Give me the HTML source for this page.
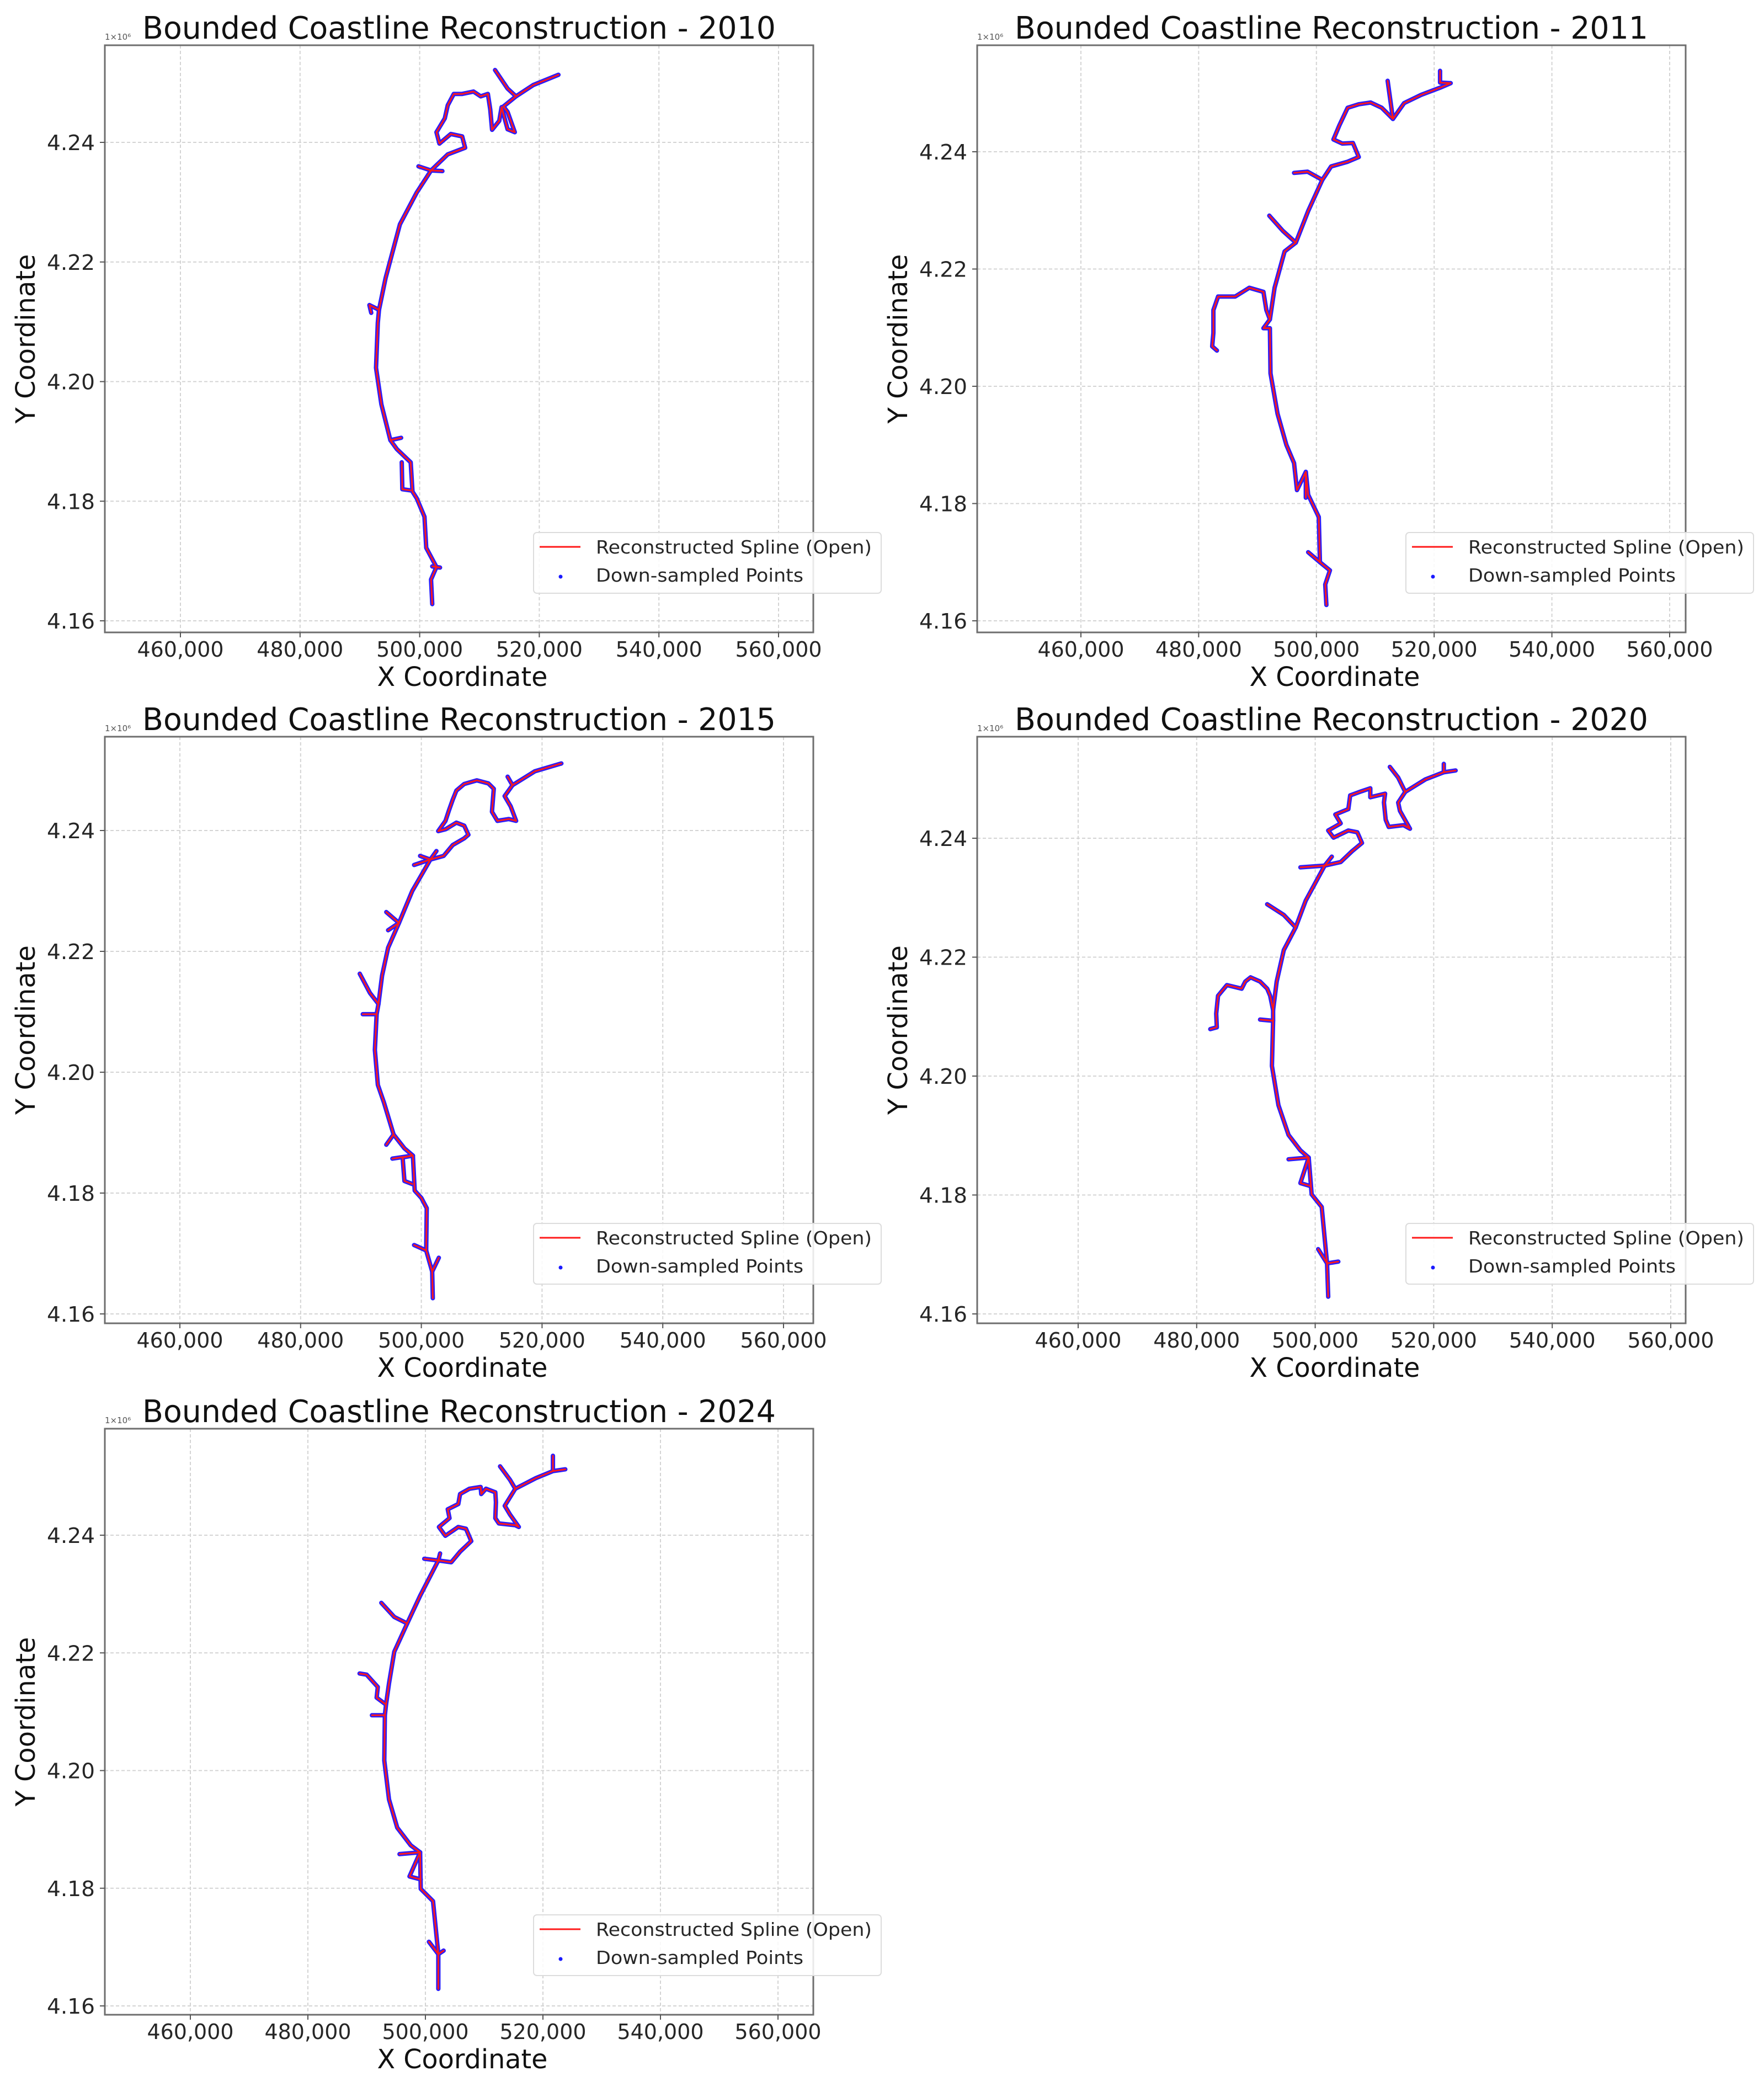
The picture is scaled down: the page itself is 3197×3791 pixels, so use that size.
<!DOCTYPE html>
<html><head><meta charset="utf-8"><style>
html,body{margin:0;padding:0;background:#fff;}
svg{display:block;font-family:"DejaVu Sans","Liberation Sans",sans-serif;}
</style></head><body>
<svg id="fig" width="3197" height="3791" viewBox="0 0 3197 3791" xmlns="http://www.w3.org/2000/svg">
<rect width="3197" height="3791" fill="#fff"/>
</svg>
<script>
// ---- data ----
const xTicks = [460, 480, 500, 520, 540, 560];          // thousands of metres
const xTickLabels = ["460,000","480,000","500,000","520,000","540,000","560,000"];
const yTicks = [4160, 4180, 4200, 4220, 4240];           // km
const yTickLabels = ["4.16","4.18","4.20","4.22","4.24"];
const years = ["2010","2011","2015","2020","2024"];

const coast2010 = [
 [[502.1,4162.8],[501.9,4166.9],[502.8,4169.0],[501.1,4172.2],[500.8,4177.4],[499.5,4180.5],[498.8,4181.6],[498.5,4186.5],[496.2,4188.7],[495.1,4190.2],[493.6,4196.2],[492.7,4202.3],[493.0,4209.8],[493.2,4212.0],[494.3,4217.3],[496.7,4226.3],[499.5,4231.6],[501.9,4235.3],[504.7,4238.0],[507.6,4239.1],[507.1,4241.0],[505.2,4241.4],[503.3,4239.8],[502.8,4241.7],[504.2,4244.0],[504.7,4246.2],[505.7,4248.1],[507.1,4248.1],[509.0,4248.5],[510.2,4247.7],[511.4,4248.1],[511.8,4245.5],[512.1,4242.1],[513.3,4243.6],[513.7,4245.9],[514.7,4242.2],[515.9,4241.7],[514.7,4245.1],[514.0,4246.0],[516.1,4247.7],[519.0,4249.6],[523.2,4251.3]],
 [[502.1,4169.1],[503.4,4168.9]],
 [[497.0,4186.5],[497.1,4182.0],[498.5,4181.8]],
 [[495.1,4190.2],[496.9,4190.6]],
 [[493.2,4212.0],[491.6,4212.8],[491.9,4211.5]],
 [[501.9,4235.3],[499.8,4236.0]],[[501.9,4235.3],[503.8,4235.2]],
 [[516.1,4247.7],[514.7,4249.0],[512.6,4252.1]]
];
const coast2011 = [
 [[501.7,4162.7],[501.5,4166.2],[502.3,4168.6],[500.6,4170.0],[500.4,4177.7],[498.6,4181.5],[498.2,4185.4],[496.7,4182.3],[496.2,4186.9],[494.9,4190.0],[493.4,4195.3],[492.2,4202.2],[492.1,4209.9],[491.0,4209.9],[492.1,4211.4],[492.9,4216.8],[494.6,4223.0],[496.5,4224.5],[498.6,4229.9],[501.0,4235.2],[502.5,4237.5],[505.3,4238.3],[507.2,4239.1],[506.2,4241.5],[504.4,4241.4],[502.9,4242.1],[503.9,4244.5],[505.3,4247.5],[507.2,4248.1],[509.2,4248.4],[511.1,4247.5],[513.0,4245.6],[514.9,4248.3],[517.8,4249.7],[521.2,4251.0],[522.8,4251.7]],
 [[500.6,4170.0],[498.6,4171.7]],
 [[498.2,4185.4],[498.2,4181.0]],
 [[492.1,4211.4],[491.5,4213.0],[491.0,4216.1],[488.6,4216.8],[486.2,4215.3],[483.3,4215.3],[482.5,4213.0],[482.5,4209.1],[482.3,4206.8],[483.1,4206.1]],
 [[496.5,4224.5],[494.3,4226.5],[492.0,4229.1]],
 [[501.0,4235.2],[498.5,4236.6],[496.2,4236.4]],
 [[513.0,4245.6],[512.1,4252.1]],
 [[522.8,4251.7],[521.0,4251.8],[521.0,4253.8]]
];
const coast2015 = [
 [[501.9,4162.6],[501.8,4167.0],[500.8,4170.5],[500.9,4177.5],[500.0,4179.2],[498.9,4180.4],[498.6,4186.2],[497.2,4187.4],[495.4,4189.7],[493.8,4195.0],[492.8,4197.9],[492.3,4203.7],[492.6,4209.6],[492.9,4211.3],[493.5,4216.0],[494.5,4220.6],[496.3,4224.7],[498.5,4230.0],[501.5,4235.2],[503.7,4235.8],[505.2,4237.6],[507.1,4238.7],[507.8,4239.3],[507.1,4240.8],[505.8,4241.3],[504.0,4240.2],[502.8,4239.9],[504.0,4241.6],[504.6,4243.4],[505.2,4245.1],[505.8,4246.6],[507.1,4247.7],[509.2,4248.3],[511.1,4247.8],[512.0,4246.9],[511.7,4243.1],[512.6,4241.6],[514.5,4241.9],[515.7,4241.6],[514.8,4244.0],[513.8,4245.7],[515.1,4247.5],[518.8,4249.8],[523.2,4251.1]],
 [[501.8,4167.0],[502.9,4169.3]],
 [[500.8,4170.5],[498.8,4171.4]],
 [[498.6,4186.2],[496.9,4185.9],[497.2,4182.0],[498.5,4181.5]],
 [[498.6,4186.2],[495.2,4185.7]],
 [[495.4,4189.7],[494.2,4188.0]],
 [[492.6,4209.6],[490.3,4209.6]],
 [[492.9,4211.3],[491.5,4213.1],[489.8,4216.3]],
 [[496.3,4224.7],[494.2,4226.5]],[[496.3,4224.7],[494.5,4223.5]],
 [[501.5,4235.2],[498.8,4234.3]],[[501.5,4235.2],[499.8,4235.8]],[[501.5,4235.2],[502.5,4236.6]],
 [[515.1,4247.5],[514.3,4248.9]]
];
const coast2020 = [
 [[502.2,4162.9],[502.0,4168.5],[501.1,4178.0],[499.4,4180.1],[498.9,4186.3],[497.5,4187.5],[495.5,4190.1],[493.8,4195.1],[492.7,4201.7],[492.9,4209.3],[492.9,4211.1],[493.5,4215.9],[494.7,4221.2],[496.7,4225.0],[498.4,4229.5],[501.6,4235.4],[504.3,4236.0],[506.2,4237.8],[507.9,4239.2],[507.1,4241.0],[505.6,4241.3],[503.1,4240.1],[502.2,4241.3],[504.3,4242.5],[503.4,4244.0],[505.6,4244.9],[505.9,4247.2],[507.8,4247.9],[509.3,4248.4],[509.3,4246.9],[511.8,4247.5],[511.6,4246.0],[511.9,4243.1],[512.4,4241.9],[514.9,4242.2],[516.0,4241.6],[514.3,4244.6],[514.0,4246.0],[515.2,4247.8],[518.6,4249.9],[521.7,4251.1],[523.7,4251.4]],
 [[502.0,4168.5],[503.9,4168.8]],
 [[502.0,4168.5],[500.5,4170.9]],
 [[498.9,4186.3],[495.5,4186.0]],
 [[498.9,4186.3],[497.5,4182.0],[499.2,4181.5]],
 [[492.9,4209.3],[490.7,4209.5]],
 [[492.9,4211.1],[492.4,4213.5],[491.9,4214.7],[490.7,4215.9],[489.1,4216.6],[488.2,4215.9],[487.6,4214.7],[485.1,4215.3],[483.6,4213.5],[483.3,4210.5],[483.4,4208.2],[482.3,4207.9]],
 [[496.7,4225.0],[494.7,4227.1],[491.9,4228.9]],
 [[501.6,4235.4],[497.5,4235.1]],[[501.6,4235.4],[502.8,4236.9]],
 [[515.2,4247.8],[514.0,4250.2],[512.6,4252.0]],
 [[521.7,4251.1],[521.7,4252.5]]
];
const coast2024 = [
 [[502.2,4162.9],[502.2,4168.8],[501.3,4177.8],[499.2,4179.9],[499.1,4186.1],[497.5,4187.3],[495.2,4190.3],[493.8,4195.1],[493.0,4201.7],[493.1,4209.4],[493.3,4211.2],[493.8,4214.8],[494.7,4220.2],[496.9,4225.0],[499.1,4229.7],[502.2,4235.7],[504.4,4235.4],[505.9,4237.2],[507.8,4239.0],[506.9,4241.1],[505.6,4241.4],[503.4,4239.9],[502.3,4241.4],[504.1,4242.9],[503.8,4244.4],[505.6,4245.3],[505.9,4247.0],[507.5,4247.9],[509.4,4248.2],[509.5,4247.0],[510.3,4247.9],[511.9,4247.3],[512.0,4245.6],[511.9,4242.9],[512.5,4242.0],[515.3,4241.7],[515.9,4241.4],[514.4,4243.5],[513.5,4245.0],[515.3,4247.9],[518.8,4249.7],[521.7,4250.9],[523.8,4251.2]],
 [[502.2,4168.8],[503.1,4169.4]],
 [[502.2,4168.8],[500.6,4170.9]],
 [[499.1,4186.1],[495.6,4185.8]],
 [[499.1,4186.1],[497.3,4182.0],[499.2,4181.5]],
 [[493.1,4209.4],[490.9,4209.4]],
 [[493.3,4211.2],[491.7,4212.4],[491.9,4214.2],[490.0,4216.3],[488.8,4216.5]],
 [[496.9,4225.0],[494.7,4226.1],[492.5,4228.5]],
 [[502.2,4235.7],[499.8,4236.0]],[[502.2,4235.7],[502.5,4236.9]],
 [[515.3,4247.9],[514.4,4249.4],[512.7,4251.7]],
 [[521.7,4250.9],[521.7,4253.5]]
];
const coastByYear = [coast2010, coast2011, coast2015, coast2020, coast2024];

// ---- layout (axis calibration) ----
const panels = [
 {box:[190,82,1474,1146], xpx:[327,1411], ypx:[1125,258]},
 {box:[1771,82,3055,1146], xpx:[1959,3026], ypx:[1125,275]},
 {box:[190,1335,1474,2398], xpx:[326,1420], ypx:[2381,1505]},
 {box:[1771,1335,3055,2398], xpx:[1954,3028], ypx:[2381,1519]},
 {box:[190,2589,1474,3651], xpx:[345,1410], ypx:[3635,2782]}
];

const NS = "http://www.w3.org/2000/svg";
const svg = document.getElementById("fig");
function mk(tag, attrs, parent){
  const e = document.createElementNS(NS, tag);
  for (const k in attrs) e.setAttribute(k, attrs[k]);
  (parent||svg).appendChild(e);
  return e;
}

panels.forEach((p, i) => {
  const [L,T,R,B] = p.box;
  const sx = v => p.xpx[0] + (v - 460) / 100 * (p.xpx[1] - p.xpx[0]);
  const sy = v => p.ypx[0] + (v - 4160) / 80 * (p.ypx[1] - p.ypx[0]);
  const g = mk("g", {});
  
  

  mk("rect", {x:L, y:T, width:R-L, height:B-T, fill:"#fff"}, g);
  xTicks.forEach(t => {
    const x = sx(t);
    const gl = mk("line", {x1:x, x2:x, y1:T, y2:B, stroke:"#d4d4d4", "stroke-width":2, "stroke-dasharray":"6,4"}, g);
    
    
  });
  yTicks.forEach(t => {
    const y = sy(t);
    const gl = mk("line", {x1:L, x2:R, y1:y, y2:y, stroke:"#d4d4d4", "stroke-width":2, "stroke-dasharray":"6,4"}, g);
    
    
  });

  const cg = mk("g", {}, g);
  
  
  coastByYear[i].forEach(seg => {
    const pts = seg.map(q => sx(q[0]).toFixed(1) + "," + sy(q[1]).toFixed(1)).join(" ");
    const pb = mk("polyline", {points:pts, fill:"none", stroke:"#2a1cff", "stroke-width":8, "stroke-linejoin":"round", "stroke-linecap":"round"}, cg);
    
    
  });
  coastByYear[i].forEach(seg => {
    const pts = seg.map(q => sx(q[0]).toFixed(1) + "," + sy(q[1]).toFixed(1)).join(" ");
    const pr = mk("polyline", {points:pts, fill:"none", stroke:"#ff1a1a", "stroke-width":3, "stroke-linejoin":"round", "stroke-linecap":"round"}, cg);
    
    
  });

  const sp = mk("rect", {x:L, y:T, width:R-L, height:B-T, fill:"none", stroke:"#6e6e6e", "stroke-width":3}, g);
  
  

  xTicks.forEach((t, k) => {
    const x = sx(t);
    mk("line", {x1:x, x2:x, y1:B, y2:B+9, stroke:"#555", "stroke-width":2}, g);
    const tl = mk("text", {x:x, y:B+44, "font-size":38, fill:"#262626", "text-anchor":"middle", textLength:157, lengthAdjust:"spacingAndGlyphs"}, g);
    tl.textContent = xTickLabels[k];
    
    
  });
  yTicks.forEach((t, k) => {
    const y = sy(t);
    mk("line", {x1:L-9, x2:L, y1:y, y2:y, stroke:"#555", "stroke-width":2}, g);
    const tl = mk("text", {x:L-18, y:y+14, "font-size":38, fill:"#262626", "text-anchor":"end", textLength:87, lengthAdjust:"spacingAndGlyphs"}, g);
    tl.textContent = yTickLabels[k];
    
    
  });

  const off = mk("text", {x:L, y:T-10, "font-size":15, fill:"#555"}, g);
  off.textContent = "1×10⁶";
  
  

  const ti = mk("text", {x:(L+R)/2, y:T-12, "font-size":56, fill:"#111", "text-anchor":"middle", textLength:1148, lengthAdjust:"spacingAndGlyphs"}, g);
  ti.textContent = "Bounded Coastline Reconstruction - " + years[i];
  
  

  const xt = mk("text", {x:(L+R)/2 + 6, y:B+97, "font-size":48, fill:"#111", "text-anchor":"middle", textLength:309, lengthAdjust:"spacingAndGlyphs"}, g);
  xt.textContent = "X Coordinate";
  
  
  const cy = (T+B)/2;
  const yt = mk("text", {x:0, y:0, "font-size":48, fill:"#111", "text-anchor":"middle", textLength:307, lengthAdjust:"spacingAndGlyphs", transform:`translate(${L-127},${cy}) rotate(-90)`}, g);
  yt.textContent = "Y Coordinate";
  
  

  const lx = R - 507, ly = B - 181;
  const lg = mk("g", {}, g);
  
  
  mk("rect", {x:lx, y:ly, width:630, height:110, rx:6, fill:"#fff", "fill-opacity":0.85, stroke:"#dcdcdc", "stroke-width":2}, lg);
  mk("line", {x1:lx+11, x2:lx+85, y1:ly+26, y2:ly+26, stroke:"#ff1a1a", "stroke-width":3}, lg);
  const t1 = mk("text", {x:lx+113, y:ly+38, "font-size":33, fill:"#262626", textLength:500, lengthAdjust:"spacingAndGlyphs"}, lg);
  t1.textContent = "Reconstructed Spline (Open)";
  
  
  mk("circle", {cx:lx+49, cy:ly+80, r:3.5, fill:"#1a1aff"}, lg);
  const t2 = mk("text", {x:lx+113, y:ly+89, "font-size":33, fill:"#262626", textLength:376, lengthAdjust:"spacingAndGlyphs"}, lg);
  t2.textContent = "Down-sampled Points";
  
  
});
</script>
</body></html>
